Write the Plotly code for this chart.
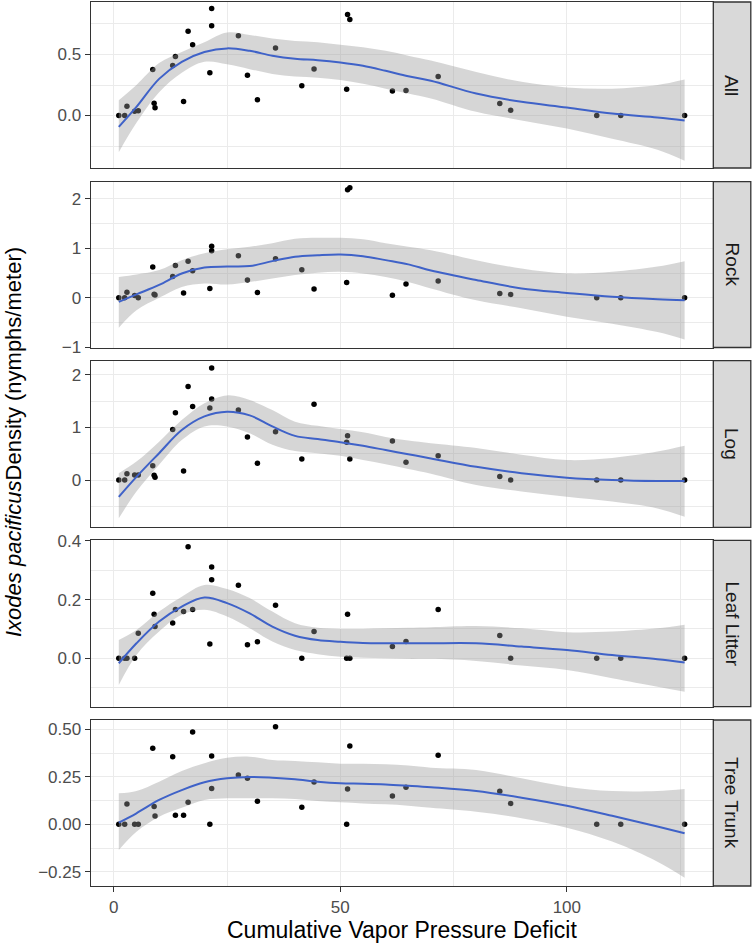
import plotly.graph_objects as go

# ---------------- data ----------------
panels = ["All", "Rock", "Log", "Leaf Litter", "Tree Trunk"]

vpd = [1.1, 2.4, 2.9, 4.6, 5.4, 8.6, 8.9, 9.1, 13.0, 13.6, 15.4, 16.4, 17.4, 21.2, 21.6, 21.6,
       27.5, 29.5, 31.7, 35.7, 41.5, 44.2, 51.4, 51.6, 52.1, 61.5, 64.5, 71.6, 85.2, 87.6,
       106.6, 111.9, 126.0]

dens_all = [0, 0, 0.076, 0.035, 0.04, 0.377, 0.10, 0.063, 0.41, 0.483, 0.115, 0.69, 0.58, 0.35,
            0.877, 0.735, 0.653, 0.33, 0.13, 0.554, 0.243, 0.382, 0.216, 0.828, 0.787, 0.2,
            0.205, 0.32, 0.098, 0.043, 0, 0, 0]
dens_rock = [0, 0, 0.115, 0.05, 0.0, 0.62, 0.075, 0.06, 0.43, 0.65, 0.1, 0.74, 0.545, 0.19,
             1.04, 0.95, 0.85, 0.36, 0.11, 0.79, 0.565, 0.18, 0.31, 2.18, 2.22, 0.055, 0.28,
             0.34, 0.09, 0.07, 0, 0, 0]
dens_log = [0, 0, 0.12, 0.095, 0.095, 0.27, 0.09, 0.05, 0.96, 1.28, 0.17, 1.78, 1.4, 1.37,
            2.13, 1.54, 1.33, 0.82, 0.32, 0.92, 0.40, 1.44, 0.72, 0.84, 0.40, 0.74, 0.34,
            0.46, 0.065, 0.0, 0, 0, 0]
dens_leaf = [0, 0, 0, 0, 0.085, 0.222, 0.15, 0.108, 0.12, 0.166, 0.159, 0.38, 0.166, 0.049,
             0.311, 0.268, 0.249, 0.046, 0.056, 0.181, 0, 0.091, 0, 0.15, 0, 0.04, 0.057,
             0.166, 0.078, 0, 0, 0, 0]
dens_trunk = [0, 0, 0.107, 0, 0, 0.40, 0.093, 0.044, 0.356, 0.047, 0.047, 0.116, 0.486, 0,
              0.36, 0.188, 0.26, 0.242, 0.121, 0.514, 0.089, 0.223, 0, 0.186, 0.412, 0.149,
              0.195, 0.363, 0.174, 0.11, 0, 0, 0]

# loess fit
fit_x = [1.1, 5, 10, 15, 20, 25, 30, 35, 40, 45, 50, 55, 60, 65, 70, 80, 90, 100, 110, 120, 126]

fit_all = [-0.093, 0.07, 0.30, 0.44, 0.52, 0.55, 0.53, 0.49, 0.465, 0.453, 0.434, 0.407, 0.366,
           0.322, 0.285, 0.18, 0.112, 0.066, 0.016, -0.016, -0.04]
up_all = [0.125, 0.25, 0.43, 0.52, 0.60, 0.68, 0.66, 0.63, 0.61, 0.60, 0.58, 0.56, 0.53, 0.49,
          0.45, 0.357, 0.276, 0.23, 0.22, 0.25, 0.295]
lo_all = [-0.30, -0.06, 0.19, 0.35, 0.44, 0.42, 0.38, 0.34, 0.32, 0.31, 0.29, 0.26, 0.22, 0.18,
          0.14, 0.03, -0.04, -0.107, -0.19, -0.28, -0.37]

fit_rock = [-0.08, 0.07, 0.26, 0.49, 0.61, 0.63, 0.64, 0.74, 0.83, 0.86, 0.875, 0.84, 0.76,
            0.675, 0.55, 0.36, 0.19, 0.10, 0.02, -0.03, -0.05]
up_rock = [0.42, 0.47, 0.56, 0.76, 0.90, 0.98, 1.03, 1.10, 1.19, 1.21, 1.21, 1.18, 1.10, 1.03,
           0.96, 0.76, 0.59, 0.49, 0.525, 0.63, 0.74]
lo_rock = [-0.6, -0.25, 0.0, 0.22, 0.29, 0.27, 0.32, 0.39, 0.46, 0.505, 0.525, 0.49, 0.42, 0.32,
           0.19, -0.05, -0.21, -0.38, -0.52, -0.69, -0.84]

fit_log = [-0.32, 0.06, 0.51, 0.95, 1.21, 1.30, 1.23, 1.02, 0.84, 0.78, 0.72, 0.65, 0.57, 0.49,
           0.41, 0.25, 0.13, 0.045, 0.0, -0.02, -0.02]
up_log = [0.13, 0.35, 0.73, 1.14, 1.46, 1.61, 1.52, 1.33, 1.11, 1.03, 0.97, 0.91, 0.82, 0.75,
          0.70, 0.61, 0.48, 0.38, 0.42, 0.54, 0.65]
lo_log = [-0.73, -0.22, 0.29, 0.76, 1.02, 1.02, 0.89, 0.67, 0.55, 0.51, 0.46, 0.38, 0.30, 0.21,
          0.12, -0.095, -0.22, -0.32, -0.41, -0.54, -0.70]

fit_leaf = [-0.017, 0.051, 0.125, 0.176, 0.207, 0.188, 0.153, 0.108, 0.077, 0.062, 0.056, 0.052,
            0.051, 0.051, 0.051, 0.051, 0.04, 0.028, 0.011, -0.003, -0.014]
up_leaf = [0.062, 0.096, 0.159, 0.21, 0.25, 0.236, 0.205, 0.159, 0.119, 0.104, 0.10, 0.10, 0.102,
           0.104, 0.106, 0.11, 0.102, 0.089, 0.091, 0.102, 0.114]
lo_leaf = [-0.091, 0.011, 0.091, 0.148, 0.165, 0.142, 0.102, 0.057, 0.028, 0.014, 0.005, 0.002,
           0.0, -0.002, -0.002, -0.009, -0.025, -0.04, -0.068, -0.097, -0.114]

fit_trunk = [0.009, 0.058, 0.128, 0.18, 0.221, 0.242, 0.249, 0.245, 0.237, 0.224, 0.216, 0.214,
             0.21, 0.203, 0.195, 0.175, 0.14, 0.098, 0.045, -0.012, -0.047]
up_trunk = [0.163, 0.175, 0.224, 0.28, 0.321, 0.35, 0.356, 0.338, 0.333, 0.326, 0.319, 0.319,
            0.316, 0.309, 0.298, 0.286, 0.242, 0.198, 0.175, 0.175, 0.186]
lo_trunk = [-0.135, -0.039, 0.04, 0.087, 0.128, 0.137, 0.137, 0.137, 0.133, 0.123, 0.116, 0.11,
            0.105, 0.098, 0.087, 0.066, 0.032, -0.018, -0.091, -0.197, -0.281]

x_ticks = [0, 50, 100]

# ---------------- layout helpers ----------------
W, H = 752, 946
FONT = "Liberation Sans, Arial, Helvetica, sans-serif"
X0, X1 = 90.7, 712.7
panel_px = [(2, 168), (181.7, 347.5), (360.7, 527.3), (540.3, 706.7), (720, 886)]
y_ranges = [(-0.43, 0.93), (-1.0, 2.34), (-0.9, 2.27), (-0.165, 0.402), (-0.325, 0.549)]
y_dtick = [0.5, 1, 1, 0.2, 0.25]
y_fmt = [".1f", "d", "d", ".1f", ".2f"]

series = [
    (dens_all, fit_all, up_all, lo_all),
    (dens_rock, fit_rock, up_rock, lo_rock),
    (dens_log, fit_log, up_log, lo_log),
    (dens_leaf, fit_leaf, up_leaf, lo_leaf),
    (dens_trunk, fit_trunk, up_trunk, lo_trunk),
]

fig = go.Figure()
layout = dict(
    width=W, height=H,
    margin=dict(l=0, r=0, t=0, b=0, autoexpand=False),
    paper_bgcolor="white", plot_bgcolor="white",
    showlegend=False,
    font=dict(family=FONT, color="#4D4D4D"),
    shapes=[], annotations=[],
)

for i, (name, (pts, fit, up, lo)) in enumerate(zip(panels, series)):
    k = "" if i == 0 else str(i + 1)
    xa, ya = "x" + k, "y" + k
    fig.add_trace(go.Scatter(x=vpd, y=pts, mode="markers", xaxis=xa, yaxis=ya,
                             marker=dict(color="black", size=5.5, line=dict(width=0))))
    fig.add_trace(go.Scatter(x=fit_x, y=lo, mode="lines", xaxis=xa, yaxis=ya,
                             line=dict(width=0, shape="spline", smoothing=1.0),
                             hoverinfo="skip"))
    fig.add_trace(go.Scatter(x=fit_x, y=up, mode="lines", xaxis=xa, yaxis=ya,
                             line=dict(width=0, shape="spline", smoothing=1.0),
                             fill="tonexty", fillcolor="rgba(153,153,153,0.4)",
                             hoverinfo="skip"))
    fig.add_trace(go.Scatter(x=fit_x, y=fit, mode="lines", xaxis=xa, yaxis=ya,
                             line=dict(color="#3F62C8", width=2, shape="spline", smoothing=1.0)))

    t, b = panel_px[i]
    dom = [1 - b / H, 1 - t / H]
    last = (i == len(panels) - 1)
    layout["xaxis" + k] = dict(
        domain=[X0 / W, X1 / W], anchor=ya, range=[-5.1, 132.2],
        tickmode="array", tickvals=x_ticks, showticklabels=last,
        ticks="outside" if last else "", ticklen=5, tickcolor="#333333", tickwidth=1.1,
        tickfont=dict(size=17, color="#4D4D4D", family=FONT),
        showgrid=True, gridcolor="#EBEBEB", gridwidth=1.2,
        minor=dict(showgrid=True, gridcolor="#EBEBEB", gridwidth=0.6, tickvals=[25, 75, 125]),
        showline=True, mirror=True, linecolor="#333333", linewidth=1.3, zeroline=False,
    )
    layout["yaxis" + k] = dict(
        domain=dom, anchor=xa, range=list(y_ranges[i]),
        tickmode="linear", tick0=0, dtick=y_dtick[i], tickformat=y_fmt[i],
        ticks="outside", ticklen=5, tickcolor="#333333", tickwidth=1.1,
        tickfont=dict(size=17, color="#4D4D4D", family=FONT),
        showgrid=True, gridcolor="#EBEBEB", gridwidth=1.2,
        minor=dict(showgrid=True, gridcolor="#EBEBEB", gridwidth=0.6,
                   tick0=0, dtick=y_dtick[i] / 2),
        showline=True, mirror=True, linecolor="#333333", linewidth=1.3, zeroline=False,
    )
    # facet strip
    layout["shapes"].append(dict(type="rect", xref="paper", yref="paper",
                                 x0=713.3 / W, x1=750.8 / W, y0=dom[0], y1=dom[1],
                                 fillcolor="#D9D9D9", line=dict(color="#333333", width=1.3),
                                 layer="above"))
    layout["annotations"].append(dict(text=name, xref="paper", yref="paper",
                                      x=732 / W, y=(dom[0] + dom[1]) / 2, showarrow=False,
                                      textangle=90, xanchor="center", yanchor="middle",
                                      font=dict(size=19, color="#1A1A1A", family=FONT)))

layout["annotations"].append(dict(text="Cumulative Vapor Pressure Deficit", xref="paper",
                                  yref="paper", x=(X0 + X1) / 2 / W, y=1 - 930 / H,
                                  showarrow=False, xanchor="center", yanchor="middle",
                                  font=dict(size=23, color="black", family=FONT)))
layout["annotations"].append(dict(text="<i>Ixodes pacificus</i>Density (nymphs/meter)",
                                  xref="paper", yref="paper", x=14 / W, y=1 - 442 / H,
                                  showarrow=False, textangle=-90, xanchor="center",
                                  yanchor="middle",
                                  font=dict(size=22, color="black", family=FONT)))

fig.update_layout(**layout)
fig.write_html(
    "out.html",
    config={"displayModeBar": False},
    post_script="document.body.style.margin='0px';document.body.style.padding='0px';"
                "document.body.style.overflow='hidden';",
)
